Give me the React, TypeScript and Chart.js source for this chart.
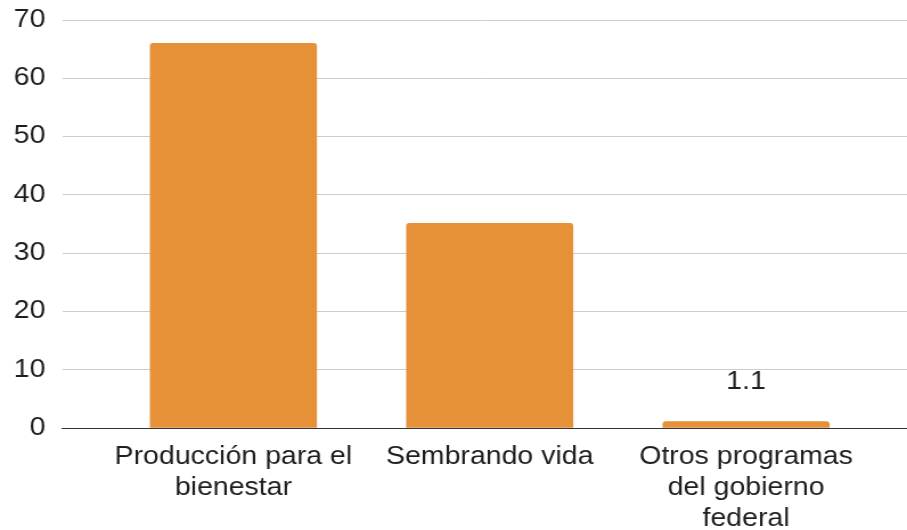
import React, { useEffect, useRef } from "react";
import { Chart, registerables } from "chart.js";

Chart.register(...registerables);

const categories: string[][] = [
  ["Producción para el", "bienestar"],
  ["Sembrando vida"],
  ["Otros programas", "del gobierno", "federal"],
];
const values: number[] = [66.0, 35.1, 1.1];
const dataLabels: string[] = ["", "", "1.1"];
const yTicks = { min: 0, max: 70, step: 10 };

const FONT = "'Liberation Sans', Arial, sans-serif";
const STRETCH = 1.14;
const OUT_W = 907;
const OUT_H = 530;
const IN_W = Math.round(OUT_W / STRETCH);

const labelPlugin = {
  id: "barLabels",
  afterDatasetsDraw(chart: any) {
    const meta = chart.getDatasetMeta(0);
    const ctx = chart.ctx;
    ctx.save();
    ctx.font = `25px ${FONT}`;
    ctx.fillStyle = "#1e1e1e";
    ctx.textAlign = "center";
    ctx.textBaseline = "alphabetic";
    meta.data.forEach((bar: any, i: number) => {
      const t = dataLabels[i];
      if (!t) return;
      ctx.fillText(t, bar.x, bar.y - 33);
    });
    ctx.restore();
  },
};

export default function App() {
  const ref = useRef<HTMLCanvasElement>(null);
  useEffect(() => {
    const chart = new Chart(ref.current!, {
      type: "bar",
      data: {
        datasets: [
          {
            data: values.map((v, i) => ({ x: i, y: v })),
            backgroundColor: "#E69138",
            borderRadius: 3,
            barThickness: 146,
          },
        ],
      },
      options: {
        animation: false,
        responsive: false,
        plugins: { legend: { display: false }, tooltip: { enabled: false } },
        layout: { padding: { left: -3, top: 0, right: 0, bottom: -11 } },
        scales: {
          x: {
            type: "linear",
            offset: false,
            min: -0.667,
            max: 2.628,
            grid: { display: false },
            border: { display: true, color: "#333", width: 1 },
            afterBuildTicks: (scale: any) => {
              scale.ticks = categories.map((_, i) => ({ value: i }));
            },
            ticks: {
              autoSkip: false,
              maxRotation: 0,
              color: "#1e1e1e",
              font: { family: FONT, size: 25, lineHeight: 1.24 },
              padding: 6,
              callback: (v: any) => categories[v as number] ?? "",
            },
          },
          y: {
            min: yTicks.min,
            max: yTicks.max,
            border: { display: false },
            grid: {
              drawTicks: false,
              color: (c: any) => (c.tick && c.tick.value === 0 ? "#333" : "#cccccc"),
            },
            ticks: {
              stepSize: yTicks.step,
              color: "#1e1e1e",
              padding: 15,
              font: { family: FONT, size: 25, lineHeight: 0.4 },
            },
          },
        },
      },
      plugins: [labelPlugin],
    });
    return () => chart.destroy();
  }, []);
  return (
    <div style={{ position: "fixed", left: 0, top: 0, width: OUT_W, height: OUT_H, background: "#fff" }}>
      <canvas
        ref={ref}
        width={IN_W}
        height={OUT_H}
        style={{ width: OUT_W + "px", height: OUT_H + "px", display: "block" }}
      />
    </div>
  );
}
